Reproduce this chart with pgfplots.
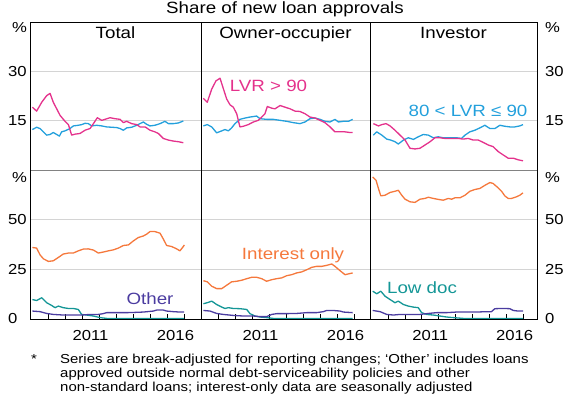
\documentclass[border=0pt]{standalone}
\usepackage{fontspec}
\setmainfont{Liberation Sans}[FakeStretch=1.15]
\usepackage{pgfplots}
\pgfplotsset{compat=1.18}

\definecolor{cpink}{RGB}{228,50,140}
\definecolor{cblue}{RGB}{35,160,220}
\definecolor{corange}{RGB}{245,120,60}
\definecolor{cteal}{RGB}{20,150,150}
\definecolor{cpurple}{RGB}{75,60,160}
\definecolor{cgrid}{RGB}{212,212,212}
\definecolor{csep}{RGB}{130,130,130}

\pgfplotsset{
  panel/.style={scale only axis, axis line style={draw=none}, ymajorgrids,
    grid style={cgrid, line width=0.7pt}, major tick length=0pt,
    tick align=inside, xtick pos=bottom, ytick pos=left,
    /pgf/number format/assume math mode=true,
    tick label style={font=\fontsize{14.5}{16}\selectfont, inner sep=0pt},
    every axis plot/.append style={line width=1.3pt, line join=round}},
  toprow/.style={panel, height=148pt, ymin=0, ymax=45, ytick={15,30},
    xtick=\empty, minor xtick=\empty},
  botrow/.style={panel, height=149pt, ymin=0, ymax=75, ytick={0,25,50},
    xtick={2011.5,2016.5}, xticklabels={2011,2016},
    minor xtick={2009,...,2017}, minor tick length=5pt,
    minor tick style={black, line width=0.8pt},
    xticklabel style={anchor=north, yshift=-11pt}},
  leftcol/.style={yticklabel pos=left, yticklabel style={anchor=west, xshift=-22pt}},
  midcol/.style={yticklabels={}},
  rightcol/.style={yticklabel pos=right, yticklabel style={anchor=west, xshift=8pt}},
  p1/.style={width=171pt, xmin=2007.94, xmax=2018.0},
  p2/.style={width=169pt, xmin=2008.0, xmax=2017.94},
  p3/.style={width=167pt, xmin=2007.93, xmax=2017.83},
}

\begin{document}
\begin{tikzpicture}[x=1pt,y=1pt]
\useasboundingbox (0,0) rectangle (575,397);

% ---------- Top row ----------
\begin{axis}[toprow, leftcol, p1, at={(30pt,227pt)}, anchor=south west]
\addplot[cblue] coordinates {(2008.08,12.3)(2008.33,13.0)(2008.53,12.6)(2008.73,11.6)(2008.92,10.6)(2009.12,10.8)(2009.31,11.4)(2009.51,10.8)(2009.67,10.3)(2009.8,11.6)(2010.0,11.9)(2010.29,12.6)(2010.49,13.4)(2010.78,13.6)(2010.98,13.8)(2011.18,14.2)(2011.37,14.1)(2011.57,13.4)(2011.86,13.6)(2012.16,13.4)(2012.45,13.1)(2012.75,13.0)(2013.04,12.9)(2013.24,12.6)(2013.43,12.1)(2013.63,12.8)(2013.92,13.0)(2014.22,13.6)(2014.41,14.1)(2014.61,14.6)(2014.8,13.9)(2015.0,13.4)(2015.29,13.6)(2015.59,14.1)(2015.88,14.8)(2016.08,14.1)(2016.37,14.1)(2016.67,14.3)(2016.96,14.9)};
\addplot[cpink] coordinates {(2008.08,19.1)(2008.33,17.9)(2008.63,20.6)(2008.92,22.6)(2009.12,23.3)(2009.31,20.6)(2009.51,18.6)(2009.71,16.6)(2010.0,14.8)(2010.2,13.8)(2010.39,10.6)(2010.59,10.9)(2010.88,11.1)(2011.18,12.1)(2011.47,12.6)(2011.67,14.1)(2011.9,15.9)(2012.16,15.1)(2012.35,15.4)(2012.65,15.9)(2012.94,15.6)(2013.24,15.4)(2013.43,14.4)(2013.63,14.8)(2013.92,14.1)(2014.22,13.8)(2014.41,13.1)(2014.71,13.1)(2015.0,12.1)(2015.29,11.6)(2015.49,11.1)(2015.78,9.6)(2016.08,9.1)(2016.37,8.8)(2016.67,8.6)(2016.96,8.3)};
\end{axis}

\begin{axis}[toprow, midcol, p2, at={(201pt,227pt)}, anchor=south west]
\addplot[cblue] coordinates {(2008.14,13.4)(2008.37,13.8)(2008.63,13.1)(2008.92,11.3)(2009.22,11.9)(2009.41,12.3)(2009.61,11.9)(2009.8,12.8)(2010.0,14.1)(2010.29,15.4)(2010.59,15.8)(2010.88,16.1)(2011.27,16.4)(2011.47,15.6)(2011.86,15.4)(2012.25,15.4)(2012.65,15.1)(2013.04,14.8)(2013.43,14.4)(2013.82,14.1)(2014.12,14.6)(2014.41,15.6)(2014.71,15.8)(2015.0,15.4)(2015.29,14.8)(2015.59,14.6)(2015.88,15.4)(2016.08,14.6)(2016.37,14.8)(2016.67,14.8)(2016.92,15.4)};
\addplot[cpink] coordinates {(2008.14,21.8)(2008.37,20.6)(2008.63,24.6)(2008.88,27.1)(2009.12,27.9)(2009.31,24.8)(2009.51,21.6)(2009.71,19.8)(2009.9,19.1)(2010.1,17.1)(2010.29,13.1)(2010.49,13.3)(2010.78,13.8)(2011.08,14.6)(2011.37,15.1)(2011.57,16.1)(2011.76,17.1)(2011.9,19.3)(2012.16,18.8)(2012.35,18.6)(2012.65,19.6)(2012.94,19.1)(2013.24,18.6)(2013.53,17.9)(2013.82,17.8)(2014.12,17.1)(2014.41,16.1)(2014.71,15.8)(2015.0,15.1)(2015.29,14.4)(2015.59,13.1)(2015.88,11.6)(2016.18,11.6)(2016.47,11.6)(2016.76,11.4)(2016.92,11.4)};
\end{axis}

\begin{axis}[toprow, rightcol, p3, at={(370pt,227pt)}, anchor=south west]
\addplot[cblue] coordinates {(2008.13,10.6)(2008.33,11.6)(2008.63,10.6)(2008.92,9.4)(2009.16,9.1)(2009.41,8.6)(2009.61,7.9)(2009.91,9.1)(2010.2,9.8)(2010.5,9.3)(2010.79,10.1)(2011.09,10.8)(2011.39,10.6)(2011.68,9.8)(2011.98,10.1)(2012.27,9.8)(2012.67,9.8)(2013.06,9.8)(2013.36,9.6)(2013.56,10.6)(2013.85,11.6)(2014.15,12.1)(2014.44,12.8)(2014.74,13.6)(2015.04,12.6)(2015.33,12.6)(2015.63,13.6)(2015.92,13.3)(2016.22,13.1)(2016.51,13.1)(2016.81,13.4)(2017.0,13.8)};
\addplot[cpink] coordinates {(2008.13,14.1)(2008.43,13.4)(2008.63,13.8)(2008.88,14.1)(2009.12,13.4)(2009.41,12.1)(2009.71,10.6)(2010.01,9.1)(2010.3,6.6)(2010.6,6.4)(2010.89,6.6)(2011.19,7.6)(2011.49,8.6)(2011.78,9.8)(2012.08,9.8)(2012.37,9.6)(2012.77,9.6)(2013.16,9.6)(2013.46,9.4)(2013.75,9.6)(2014.05,9.1)(2014.35,9.1)(2014.64,8.4)(2014.94,7.6)(2015.23,7.1)(2015.53,5.6)(2015.82,4.6)(2016.12,3.6)(2016.42,3.6)(2016.71,3.1)(2017.0,2.8)};
\end{axis}

% ---------- Bottom row ----------
\begin{axis}[botrow, leftcol, p1, at={(30pt,78pt)}, anchor=south west]
\addplot[corange] coordinates {(2008.08,36.0)(2008.33,35.7)(2008.53,32.3)(2008.73,30.3)(2009.02,29.0)(2009.31,29.3)(2009.61,31.0)(2009.9,32.7)(2010.2,33.2)(2010.49,33.2)(2010.78,34.3)(2011.08,35.2)(2011.37,35.3)(2011.67,34.7)(2011.96,33.2)(2012.25,33.7)(2012.55,34.3)(2012.84,34.8)(2013.14,35.7)(2013.43,37.0)(2013.73,37.3)(2014.02,39.3)(2014.31,41.0)(2014.61,41.8)(2014.8,42.7)(2015.0,44.0)(2015.29,44.0)(2015.59,43.2)(2015.78,40.3)(2015.98,37.0)(2016.27,36.5)(2016.57,35.3)(2016.76,34.3)(2016.96,36.5)(2017.02,37.3)};
\addplot[cteal] coordinates {(2008.08,9.8)(2008.33,9.3)(2008.63,10.7)(2008.92,8.2)(2009.22,6.8)(2009.41,5.7)(2009.61,6.5)(2009.9,5.7)(2010.2,5.3)(2010.49,5.3)(2010.78,4.8)(2010.98,2.3)(2011.27,2.0)(2011.67,1.5)(2012.06,0.7)(2012.45,0.3)(2013.04,0.2)(2014.0,0.2)(2015.0,0.2)(2016.0,0.2)(2017.0,0.2)};
\addplot[cpurple] coordinates {(2008.08,4.0)(2008.53,3.7)(2008.92,2.8)(2009.31,2.3)(2009.9,2.0)(2010.49,2.0)(2010.98,2.0)(2011.47,2.3)(2011.96,2.3)(2012.25,2.7)(2012.45,3.2)(2013.04,3.2)(2013.63,3.2)(2014.02,3.3)(2014.61,3.5)(2015.2,4.0)(2015.39,4.5)(2015.78,4.5)(2015.98,4.0)(2016.37,3.7)(2016.76,3.5)(2017.0,3.5)};
\end{axis}

\begin{axis}[botrow, midcol, p2, at={(201pt,78pt)}, anchor=south west]
\addplot[corange] coordinates {(2008.14,19.3)(2008.37,18.7)(2008.63,16.5)(2008.92,15.3)(2009.22,15.3)(2009.51,17.0)(2009.8,18.7)(2010.1,19.0)(2010.39,19.5)(2010.69,20.3)(2010.98,21.0)(2011.27,21.0)(2011.57,20.3)(2011.86,19.0)(2012.16,19.8)(2012.45,20.3)(2012.75,20.7)(2013.04,21.8)(2013.33,22.3)(2013.63,23.2)(2013.92,23.7)(2014.22,24.8)(2014.51,26.0)(2014.8,26.5)(2015.1,26.5)(2015.39,27.0)(2015.69,27.7)(2015.88,26.5)(2016.18,24.3)(2016.47,22.3)(2016.67,22.7)(2016.92,23.2)};
\addplot[cteal] coordinates {(2008.14,7.7)(2008.37,8.2)(2008.63,9.0)(2008.92,7.3)(2009.22,6.0)(2009.41,5.3)(2009.61,5.7)(2009.9,5.3)(2010.29,5.2)(2010.69,4.8)(2010.88,2.7)(2011.18,1.5)(2011.47,1.0)(2011.86,0.7)(2012.25,0.3)(2013.24,0.2)(2015.2,0.2)(2016.92,0.2)};
\addplot[cpurple] coordinates {(2008.14,4.3)(2008.53,4.0)(2008.92,2.8)(2009.31,2.3)(2009.9,1.8)(2010.49,1.5)(2011.08,1.5)(2011.47,1.2)(2011.86,1.2)(2012.16,2.3)(2012.45,2.7)(2013.04,2.7)(2013.63,2.8)(2014.22,3.2)(2014.8,3.2)(2015.2,3.7)(2015.39,4.3)(2015.78,4.3)(2016.18,4.0)(2016.37,3.5)(2016.92,3.2)};
\end{axis}

\begin{axis}[botrow, rightcol, p3, at={(370pt,78pt)}, anchor=south west]
\addplot[corange] coordinates {(2008.09,71.5)(2008.29,69.8)(2008.43,65.7)(2008.57,62.0)(2008.82,62.3)(2009.12,63.7)(2009.41,64.3)(2009.61,64.8)(2009.81,62.3)(2010.01,60.3)(2010.3,59.0)(2010.6,58.7)(2010.89,60.3)(2011.19,60.7)(2011.39,61.3)(2011.68,60.7)(2011.98,60.2)(2012.27,59.8)(2012.57,60.7)(2012.77,60.3)(2012.96,61.0)(2013.26,61.0)(2013.56,62.3)(2013.85,64.3)(2014.15,65.2)(2014.44,65.7)(2014.74,67.3)(2015.04,68.7)(2015.23,68.2)(2015.53,66.0)(2015.73,64.3)(2015.92,62.0)(2016.12,60.7)(2016.32,60.7)(2016.61,61.5)(2016.81,62.3)(2017.0,63.5)};
\addplot[cteal] coordinates {(2008.09,14.0)(2008.33,12.7)(2008.57,14.0)(2008.82,11.5)(2009.12,9.8)(2009.41,8.2)(2009.61,9.0)(2009.91,7.3)(2010.2,6.5)(2010.5,6.0)(2010.79,5.7)(2010.99,3.2)(2011.29,2.3)(2011.68,2.0)(2012.08,1.5)(2012.47,1.0)(2012.87,0.7)(2013.46,0.3)(2014.84,0.2)(2017.0,0.2)};
\addplot[cpurple] coordinates {(2008.09,4.3)(2008.53,3.7)(2008.92,2.3)(2009.32,2.0)(2009.71,2.3)(2010.1,2.3)(2010.5,2.3)(2010.89,2.3)(2011.39,2.8)(2011.88,3.2)(2012.47,3.2)(2013.06,3.5)(2013.65,3.5)(2014.25,3.5)(2014.84,3.7)(2015.13,3.7)(2015.33,5.2)(2015.82,5.3)(2016.22,5.2)(2016.42,4.3)(2016.71,4.0)(2017.0,4.0)};
\end{axis}

% ---------- Frames ----------
\draw[csep, line width=0.9pt] (30,227) -- (537,227);
\draw[black, line width=0.9pt] (30,78) rectangle (537,375);
\draw[black, line width=0.9pt] (201,78) -- (201,375);
\draw[black, line width=0.9pt] (370,78) -- (370,375);

% ---------- Percent signs ----------
\begin{scope}[every node/.style={font=\fontsize{14.5}{16}\selectfont, inner sep=0pt}]
\node[anchor=west] at (12,369.5) {\%};
\node[anchor=west] at (12,219) {\%};
\node[anchor=west] at (545,369.5) {\%};
\node[anchor=west] at (545,219) {\%};
\end{scope}

% ---------- Titles ----------
\begin{scope}[every node/.style={font=\fontsize{16.3}{18}\selectfont, inner sep=0pt, anchor=base}]
\node at (285,383.7) {Share of new loan approvals};
\node at (115.5,358.7) {Total};
\node at (285.5,358.7) {Owner-occupier};
\node at (453.5,358.7) {Investor};
\end{scope}

% ---------- Series labels ----------
\begin{scope}[every node/.style={font=\fontsize{16.3}{18}\selectfont, inner sep=0pt, anchor=base}]
\node[text=cpink] at (268.5,305.3) {LVR > 90};
\node[text=cblue] at (468,280.3) {80 < LVR ≤ 90};
\node[text=corange] at (293,137.7) {Interest only};
\node[text=cteal] at (422,103.7) {Low doc};
\node[text=cpurple] at (150,92.7) {Other};
\end{scope}

% ---------- Footnote ----------
\begin{scope}[every node/.style={font=\fontsize{13}{15}\selectfont, inner sep=0pt, anchor=base west}]
\node at (31,33.7) {*};
\node at (60,33.7) {Series are break-adjusted for reporting changes; ‘Other’ includes loans};
\node at (60,19.7) {approved outside normal debt-serviceability policies and other};
\node at (60,5.3) {non-standard loans; interest-only data are seasonally adjusted};
\end{scope}
\end{tikzpicture}
\end{document}
